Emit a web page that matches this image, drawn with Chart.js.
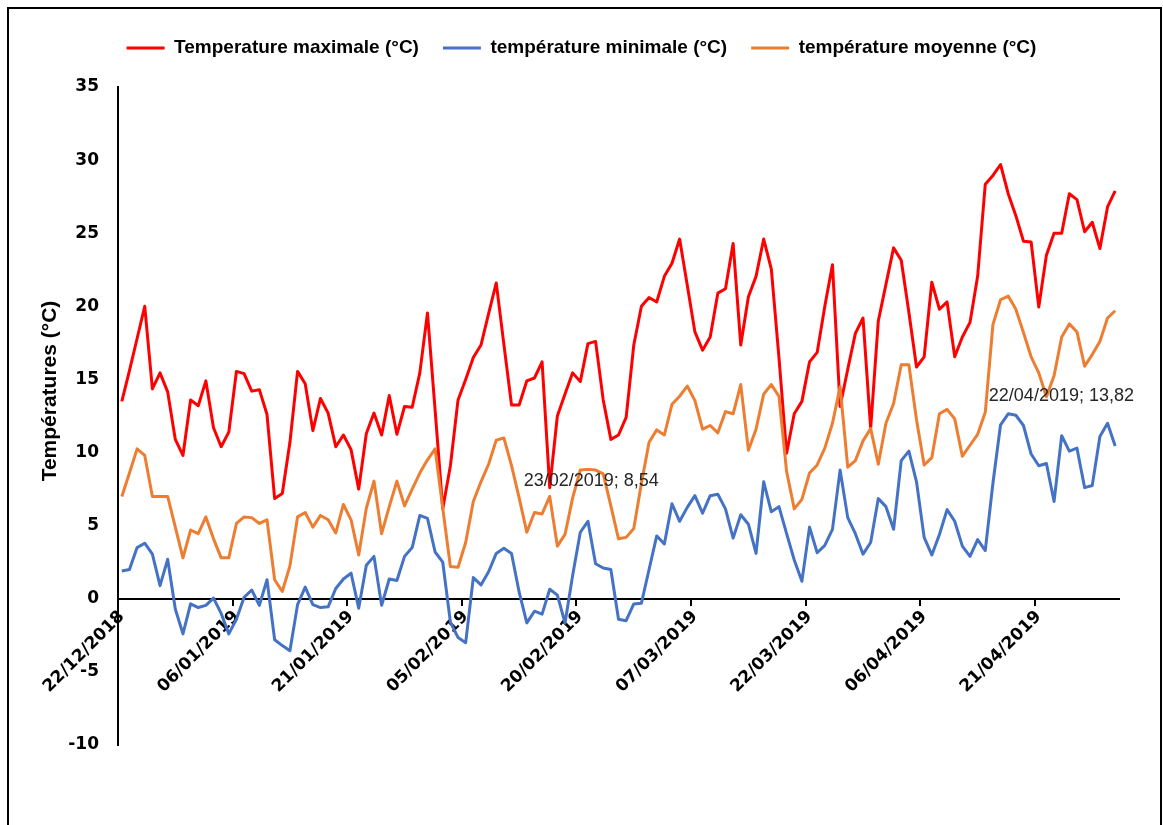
<!DOCTYPE html>
<html lang="fr">
<head>
<meta charset="utf-8">
<title>Températures</title>
<script src="https://cdn.jsdelivr.net/npm/chart.js@4.4.1/dist/chart.umd.min.js"></script>
<style>
  html, body {
    margin: 0;
    padding: 0;
    background: #fff;
    overflow: hidden;
  }
  .frame {
    position: absolute;
    left: 7px;
    top: 7px;
    width: 1151px;
    height: 840px;
    border: 2px solid #000;
  }
  #chart {
    position: absolute;
    left: 0;
    top: 0;
  }
</style>
</head>
<body>
<div class="frame"></div>
<canvas id="chart" width="1163" height="825"></canvas>
<script>
// one value per day, from 22/12/2018 to 01/05/2019
const startDate = new Date(2018, 11, 22);
const dayCount = 131;

const tMax = [
  13.5, 15.6, 17.8, 20.0, 14.35, 15.45, 14.15, 10.9, 9.8, 13.6,
  13.2, 14.9, 11.7, 10.4, 11.4, 15.55, 15.4, 14.2, 14.3, 12.6,
  6.85, 7.2, 10.7, 15.55, 14.7, 11.5, 13.7, 12.7, 10.4, 11.2,
  10.2, 7.5, 11.3, 12.7, 11.2, 13.9, 11.25, 13.15, 13.1, 15.45,
  19.55, 12.9, 6.15, 9.1, 13.6, 15.0, 16.5, 17.35, 19.5, 21.6,
  17.4, 13.25, 13.25, 14.9, 15.1, 16.2, 7.6, 12.5, 14.0, 15.45,
  14.85, 17.45, 17.6, 13.6, 10.9, 11.2, 12.4, 17.35, 20.0, 20.6,
  20.3, 22.05, 22.95, 24.6, 21.45, 18.25, 17.0, 17.9, 20.9, 21.2,
  24.3, 17.35, 20.65, 22.05, 24.6, 22.55, 16.5, 9.95, 12.65, 13.5,
  16.2, 16.85, 20.0, 22.85, 13.15, 15.7, 18.15, 19.2, 11.65, 19.0,
  21.5, 24.0, 23.15, 19.6, 15.85, 16.55, 21.65, 19.8, 20.3, 16.55,
  17.9, 18.9, 22.05, 28.35, 28.95, 29.7, 27.7, 26.2, 24.45, 24.4,
  19.95, 23.5, 25.0, 25.0, 27.7, 27.3, 25.1, 25.75, 23.95, 26.8,
  27.9
];

const tMin = [
  1.9, 2.0, 3.5, 3.8, 3.05, 0.9, 2.7, -0.7, -2.4, -0.35,
  -0.6, -0.45, 0.05, -1.0, -2.4, -1.4, 0.1, 0.6, -0.45, 1.3,
  -2.8, -3.2, -3.55, -0.4, 0.8, -0.4, -0.6, -0.55, 0.7, 1.35,
  1.75, -0.65, 2.3, 2.9, -0.45, 1.35, 1.25, 2.9, 3.5, 5.7,
  5.5, 3.2, 2.5, -1.6, -2.65, -3.0, 1.45, 0.95, 1.85, 3.1,
  3.45, 3.1, 0.45, -1.65, -0.85, -1.05, 0.65, 0.25, -1.65, 1.6,
  4.55, 5.3, 2.4, 2.1, 2.0, -1.4, -1.5, -0.35, -0.3, 2.0,
  4.3, 3.75, 6.5, 5.3, 6.25, 7.05, 5.85, 7.05, 7.15, 6.15,
  4.15, 5.75, 5.1, 3.1, 8.0, 5.95, 6.3, 4.45, 2.65, 1.2,
  4.9, 3.15, 3.65, 4.75, 8.8, 5.55, 4.45, 3.05, 3.85, 6.85,
  6.3, 4.75, 9.45, 10.1, 8.0, 4.2, 3.0, 4.4, 6.1, 5.3,
  3.6, 2.9, 4.05, 3.3, 7.9, 11.9, 12.65, 12.55, 11.85, 9.9,
  9.1, 9.25, 6.65, 11.15, 10.1, 10.3, 7.6, 7.75, 11.1, 12.0,
  10.45
];

const tMean = [
  7.0, 8.6, 10.25, 9.8, 7.0, 7.0, 7.0, 4.9, 2.8, 4.7,
  4.45, 5.6, 4.1, 2.8, 2.8, 5.15, 5.6, 5.55, 5.15, 5.4,
  1.3, 0.5, 2.25, 5.6, 5.9, 4.9, 5.7, 5.4, 4.5, 6.45,
  5.4, 3.0, 6.2, 8.05, 4.45, 6.3, 8.05, 6.35, 7.5, 8.6,
  9.5, 10.25, 6.2, 2.2, 2.15, 3.85, 6.65, 8.0, 9.2, 10.85,
  11.0, 9.1, 6.9, 4.55, 5.9, 5.8, 7.0, 3.6, 4.4, 6.9,
  8.8, 8.85, 8.8, 8.54, 6.35, 4.1, 4.2, 4.8, 7.9, 10.7,
  11.55, 11.2, 13.3, 13.85, 14.55, 13.55, 11.6, 11.85, 11.35, 12.8,
  12.65, 14.65, 10.15, 11.6, 14.0, 14.65, 13.85, 8.7, 6.15, 6.8,
  8.6, 9.15, 10.3, 12.0, 14.5, 9.0, 9.45, 10.8, 11.65, 9.2,
  12.0, 13.35, 16.0, 16.0, 12.25, 9.15, 9.65, 12.65, 12.95, 12.3,
  9.75, 10.5, 11.25, 12.75, 18.75, 20.45, 20.7, 19.8, 18.2, 16.55,
  15.45, 13.82, 15.25, 17.9, 18.8, 18.25, 15.9, 16.7, 17.6, 19.2,
  19.7
];

const seriesNames = [
  "Temperature maximale (°C)",
  "température minimale (°C)",
  "température moyenne (°C)",
];
const seriesColors = ["#ff0000", "#4472c4", "#ed7d31"];

const yTicks = [-10, -5, 0, 5, 10, 15, 20, 25, 30, 35];
const tickEvery = 15;

// data labels shown on the mean series (index in the day list)
const labelledMeans = [
  { index: 63, dx: -12, dy: 7 },
  { index: 121, dx: 15, dy: -1 },
];

function pad2(n) {
  return n < 10 ? "0" + n : "" + n;
}

const dates = [];
for (let i = 0; i < dayCount; i++) {
  const d = new Date(startDate.getFullYear(), startDate.getMonth(), startDate.getDate() + i);
  dates.push(`${pad2(d.getDate())}/${pad2(d.getMonth() + 1)}/${d.getFullYear()}`);
}

const tickFont = { family: "'DejaVu Sans', Verdana, sans-serif", weight: "bold", size: 17 };

const yTitle = {
  id: "yTitle",
  afterDraw(chart) {
    const ctx = chart.ctx;
    ctx.save();
    ctx.translate(50, 391);
    ctx.rotate(-Math.PI / 2);
    ctx.font = "bold 21px 'Liberation Sans', Arial, sans-serif";
    ctx.fillStyle = "#000";
    ctx.textAlign = "center";
    ctx.textBaseline = "middle";
    ctx.fillText("Températures (°C)", 0, 0);
    ctx.restore();
  },
};

const meanLabels = {
  id: "meanLabels",
  afterDatasetsDraw(chart) {
    const ctx = chart.ctx;
    const meta = chart.getDatasetMeta(2);
    ctx.save();
    ctx.font = "18px 'Liberation Sans', Arial, sans-serif";
    ctx.fillStyle = "#262626";
    ctx.textAlign = "center";
    ctx.textBaseline = "middle";
    labelledMeans.forEach((item) => {
      const pt = meta.data[item.index];
      const text = `${dates[item.index]}; ${String(tMean[item.index]).replace(".", ",")}`;
      ctx.fillText(text, pt.x + item.dx, pt.y + item.dy);
    });
    ctx.restore();
  },
};

// push the plot area down below the legend
const legendSpacer = {
  id: "legendSpacer",
  beforeInit(chart) {
    const fit = chart.legend.fit;
    chart.legend.fit = function () {
      fit.call(this);
      this.height += 19.5;
    };
  },
};

function makeDataset(i, values, order) {
  return {
    label: seriesNames[i],
    data: values,
    borderColor: seriesColors[i],
    backgroundColor: seriesColors[i],
    borderWidth: 3,
    borderJoinStyle: "round",
    pointRadius: 0,
    tension: 0,
    order,
  };
}

new Chart(document.getElementById("chart"), {
  type: "line",
  data: {
    labels: dates,
    datasets: [
      makeDataset(0, tMax, 3),
      makeDataset(1, tMin, 2),
      makeDataset(2, tMean, 1),
    ],
  },
  options: {
    responsive: false,
    animation: false,
    devicePixelRatio: 1,
    layout: {
      padding: { left: 44, top: 14.5, right: 44, bottom: 80 },
    },
    scales: {
      x: {
        type: "category",
        position: { y: 0 },
        offset: true,
        grid: {
          offset: true,
          drawOnChartArea: false,
          drawTicks: true,
          tickLength: 6,
          lineWidth: 2,
          color: (ctx) => (ctx.index !== undefined && ctx.index % tickEvery === 0 ? "#000" : "rgba(0,0,0,0)"),
        },
        border: { display: true, color: "#000", width: 2 },
        ticks: {
          autoSkip: false,
          minRotation: 45,
          maxRotation: 45,
          padding: 2,
          color: "#000",
          font: tickFont,
          callback(value, index) {
            return index % tickEvery === 0 ? this.getLabelForValue(value) : "";
          },
        },
      },
      y: {
        min: yTicks[0],
        max: yTicks[yTicks.length - 1],
        afterBuildTicks(scale) {
          scale.ticks = yTicks.map((v) => ({ value: v }));
        },
        afterFit(scale) {
          scale.width = 74;
        },
        grid: { display: false, drawTicks: false },
        border: { display: true, color: "#000", width: 2 },
        ticks: {
          padding: 19,
          color: "#000",
          font: tickFont,
        },
      },
    },
    plugins: {
      legend: {
        position: "top",
        labels: {
          boxWidth: 38,
          boxHeight: 3,
          padding: 24,
          color: "#000",
          font: { family: "'Liberation Sans', Arial, sans-serif", weight: "bold", size: 19 },
          sort: (a, b) => a.datasetIndex - b.datasetIndex,
          generateLabels(chart) {
            const items = Chart.defaults.plugins.legend.labels.generateLabels(chart);
            items.forEach((item) => {
              item.lineWidth = 0;
            });
            return items;
          },
        },
      },
      tooltip: { enabled: false },
    },
  },
  plugins: [legendSpacer, yTitle, meanLabels],
});
</script>
</body>
</html>
